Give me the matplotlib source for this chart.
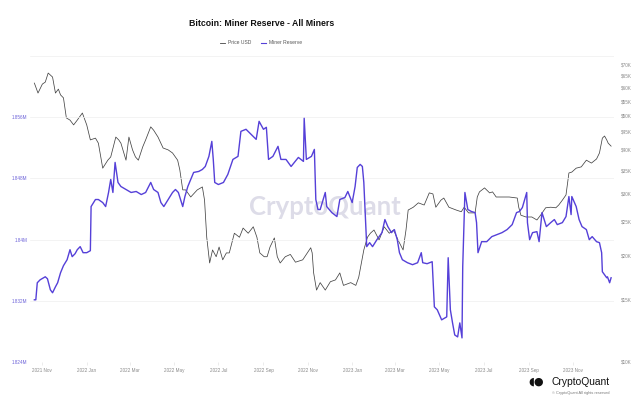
import matplotlib
matplotlib.use("Agg")
import matplotlib.pyplot as plt
import matplotlib.dates as mdates
from matplotlib.ticker import FixedLocator, FuncFormatter, NullLocator
from matplotlib.lines import Line2D
import pandas as pd

# ---------------- data ----------------
price_dates = [
    "2021-10-21", "2021-10-26", "2021-11-01", "2021-11-05", "2021-11-09",
    "2021-11-15", "2021-11-19", "2021-11-23", "2021-11-26", "2021-11-30",
    "2021-12-04", "2021-12-09", "2021-12-14", "2021-12-19", "2021-12-26",
    "2022-01-01", "2022-01-06", "2022-01-13", "2022-01-17", "2022-01-23",
    "2022-01-30", "2022-02-03", "2022-02-10", "2022-02-14", "2022-02-17",
    "2022-02-24", "2022-02-28", "2022-03-05", "2022-03-09", "2022-03-13",
    "2022-03-19", "2022-03-23", "2022-03-30", "2022-04-03", "2022-04-09",
    "2022-04-16", "2022-04-23", "2022-04-29", "2022-05-06", "2022-05-09",
    "2022-05-13", "2022-05-17", "2022-05-24", "2022-06-02", "2022-06-09",
    "2022-06-12", "2022-06-15", "2022-06-19", "2022-06-23", "2022-06-28",
    "2022-07-02", "2022-07-07", "2022-07-12", "2022-07-16", "2022-07-23",
    "2022-07-30", "2022-08-04", "2022-08-11", "2022-08-18", "2022-08-23",
    "2022-08-27", "2022-09-02", "2022-09-06", "2022-09-10", "2022-09-16",
    "2022-09-20", "2022-09-24", "2022-10-01", "2022-10-08", "2022-10-15",
    "2022-10-25", "2022-11-01", "2022-11-05", "2022-11-07", "2022-11-09",
    "2022-11-13", "2022-11-18", "2022-11-25", "2022-12-02", "2022-12-09",
    "2022-12-15", "2022-12-20", "2022-12-30", "2023-01-06", "2023-01-10",
    "2023-01-17", "2023-01-22", "2023-01-26", "2023-01-31", "2023-02-07",
    "2023-02-14", "2023-02-21", "2023-02-27", "2023-03-05", "2023-03-12",
    "2023-03-16", "2023-03-19", "2023-03-26", "2023-04-02", "2023-04-10",
    "2023-04-17", "2023-04-22", "2023-04-26", "2023-05-03", "2023-05-07",
    "2023-05-14", "2023-05-24", "2023-05-31", "2023-06-04", "2023-06-10",
    "2023-06-19", "2023-06-22", "2023-06-25", "2023-07-02", "2023-07-09",
    "2023-07-13", "2023-07-18", "2023-07-26", "2023-08-05", "2023-08-16",
    "2023-08-18", "2023-08-21", "2023-08-28", "2023-09-05", "2023-09-12",
    "2023-09-17", "2023-09-24", "2023-10-01", "2023-10-08", "2023-10-12",
    "2023-10-17", "2023-10-22", "2023-10-26", "2023-10-30", "2023-11-05",
    "2023-11-12", "2023-11-19", "2023-11-26", "2023-12-03", "2023-12-07",
    "2023-12-11", "2023-12-14", "2023-12-17", "2023-12-19", "2023-12-23",
]
price_usd_k = [
    61.9, 58.0, 61.5, 62.3, 66.1,
    64.4, 58.0, 59.5, 57.3, 56.2,
    49.3, 48.6, 47.1, 48.6, 50.9,
    47.1, 42.7, 43.2, 41.8, 35.5,
    37.4, 38.2, 43.5, 42.7, 41.8,
    37.4, 43.5, 40.0, 38.2, 37.4,
    40.8, 42.7, 46.5, 45.5, 43.5,
    40.5, 40.0, 39.2, 37.4, 35.1,
    30.8, 30.8, 29.4, 30.8, 31.4,
    28.8, 22.6, 19.1, 20.8, 19.9,
    21.2, 19.5, 20.4, 20.4, 23.2,
    22.6, 24.0, 23.2, 24.2, 22.6,
    20.4, 19.9, 19.9, 21.2, 22.5,
    19.9, 19.1, 19.9, 20.2, 19.2,
    19.5, 20.5, 21.1, 20.4, 17.9,
    16.0, 16.8, 16.0, 16.9, 17.1,
    17.9, 16.5, 16.8, 16.5, 17.4,
    20.8, 22.6, 23.2, 23.7, 22.2,
    24.2, 23.2, 23.7, 22.2, 20.8,
    23.7, 27.0, 27.5, 28.3, 27.9,
    30.2, 30.0, 27.5, 28.8, 29.2,
    27.5, 27.0, 26.7, 27.5, 26.5,
    26.5, 29.4, 30.4, 31.2, 30.2,
    30.4, 29.4, 29.4, 29.4, 29.2,
    27.5, 26.1, 25.8, 25.8, 25.3,
    26.1, 27.4, 27.5, 27.4, 27.9,
    28.8, 29.8, 34.4, 34.6, 35.5,
    35.8, 37.4, 36.7, 37.7, 39.2,
    43.2, 43.8, 42.7, 41.8, 41.0,
]

reserve_dates = [
    "2021-10-21", "2021-10-23", "2021-10-25", "2021-10-29", "2021-11-05",
    "2021-11-08", "2021-11-12", "2021-11-15", "2021-11-19", "2021-11-22",
    "2021-11-26", "2021-11-30", "2021-12-05", "2021-12-09", "2021-12-12",
    "2021-12-16", "2021-12-19", "2021-12-23", "2021-12-27", "2022-01-01",
    "2022-01-06", "2022-01-07", "2022-01-13", "2022-01-17", "2022-01-23",
    "2022-01-27", "2022-01-31", "2022-02-03", "2022-02-06", "2022-02-09",
    "2022-02-13", "2022-02-17", "2022-02-24", "2022-03-03", "2022-03-10",
    "2022-03-17", "2022-03-23", "2022-03-30", "2022-04-03", "2022-04-09",
    "2022-04-13", "2022-04-17", "2022-04-23", "2022-04-29", "2022-05-03",
    "2022-05-07", "2022-05-13", "2022-05-16", "2022-05-20", "2022-05-24",
    "2022-05-28", "2022-06-04", "2022-06-09", "2022-06-13", "2022-06-18",
    "2022-06-22", "2022-06-24", "2022-06-26", "2022-07-01", "2022-07-08",
    "2022-07-14", "2022-07-21", "2022-07-28", "2022-08-01", "2022-08-08",
    "2022-08-15", "2022-08-22", "2022-08-26", "2022-09-01", "2022-09-05",
    "2022-09-08", "2022-09-14", "2022-09-21", "2022-09-25", "2022-10-02",
    "2022-10-09", "2022-10-19", "2022-10-26", "2022-10-27", "2022-10-30",
    "2022-11-06", "2022-11-10", "2022-11-12", "2022-11-15", "2022-11-18",
    "2022-11-25", "2022-11-27", "2022-12-04", "2022-12-11", "2022-12-15",
    "2022-12-22", "2022-12-26", "2023-01-01", "2023-01-05", "2023-01-08",
    "2023-01-12", "2023-01-15", "2023-01-17", "2023-01-21", "2023-01-25",
    "2023-01-29", "2023-02-04", "2023-02-11", "2023-02-15", "2023-02-19",
    "2023-02-24", "2023-02-28", "2023-03-04", "2023-03-07", "2023-03-11",
    "2023-03-18", "2023-03-25", "2023-04-01", "2023-04-06", "2023-04-08",
    "2023-04-14", "2023-04-21", "2023-04-24", "2023-04-28", "2023-05-04",
    "2023-05-11", "2023-05-13", "2023-05-16", "2023-05-19", "2023-05-22",
    "2023-05-26", "2023-05-29", "2023-06-01", "2023-06-02", "2023-06-05",
    "2023-06-09", "2023-06-14", "2023-06-19", "2023-06-21", "2023-06-23",
    "2023-06-28", "2023-07-05", "2023-07-12", "2023-07-19", "2023-07-26",
    "2023-08-02", "2023-08-09", "2023-08-15", "2023-08-19", "2023-08-23",
    "2023-08-29", "2023-08-30", "2023-09-02", "2023-09-06", "2023-09-12",
    "2023-09-15", "2023-09-19", "2023-09-25", "2023-10-01", "2023-10-06",
    "2023-10-10", "2023-10-17", "2023-10-22", "2023-10-26", "2023-10-29",
    "2023-10-30", "2023-11-05", "2023-11-09", "2023-11-13", "2023-11-19",
    "2023-11-23", "2023-11-27", "2023-12-03", "2023-12-07", "2023-12-10",
    "2023-12-11", "2023-12-17", "2023-12-18", "2023-12-21", "2023-12-23",
]
reserve_m = [
    1.83213, 1.83213, 1.83436, 1.83475, 1.83514,
    1.83488, 1.83344, 1.83305, 1.83383, 1.83436,
    1.83567, 1.83659, 1.83737, 1.83868, 1.83777,
    1.83816, 1.83868, 1.83908, 1.83829, 1.83829,
    1.83855, 1.84432, 1.84524, 1.84524, 1.84484,
    1.84432, 1.84616, 1.84786, 1.84616, 1.85009,
    1.84747, 1.84694, 1.84655, 1.84616, 1.84629,
    1.84589, 1.84616, 1.84747, 1.84655, 1.84616,
    1.84484, 1.84432, 1.84524, 1.84616, 1.84655,
    1.84616, 1.84432, 1.84563, 1.84694, 1.84786,
    1.84878, 1.84891, 1.84917, 1.84956, 1.85088,
    1.85284, 1.85048, 1.84747, 1.84720, 1.84747,
    1.84852, 1.85048, 1.85088, 1.85415, 1.85442,
    1.85376, 1.85310, 1.85546, 1.85442, 1.85468,
    1.85048, 1.85088, 1.85219, 1.85048, 1.85048,
    1.84956, 1.85074, 1.85022, 1.85586, 1.85048,
    1.85088, 1.85179, 1.84524, 1.84393, 1.84393,
    1.84616, 1.84432, 1.84353, 1.84301, 1.84524,
    1.84550, 1.84629, 1.84484, 1.84694, 1.84943,
    1.84983, 1.84956, 1.84747, 1.83908, 1.83960,
    1.83908, 1.83999, 1.84091, 1.84262, 1.84170,
    1.84091, 1.84131, 1.83999, 1.83829, 1.83737,
    1.83698, 1.83672, 1.83698, 1.83829, 1.83698,
    1.83685, 1.83711, 1.83121, 1.83082, 1.82951,
    1.82990, 1.83763, 1.83082, 1.82911, 1.82754,
    1.82728, 1.82911, 1.82715, 1.83646, 1.84616,
    1.84393, 1.84367, 1.84353, 1.84222, 1.83829,
    1.83973, 1.83973, 1.84039, 1.84065, 1.84091,
    1.84131, 1.84196, 1.84353, 1.84367, 1.84419,
    1.84616, 1.84222, 1.83999, 1.84091, 1.84104,
    1.83973, 1.84353, 1.84170, 1.84222, 1.84262,
    1.84196, 1.84222, 1.84301, 1.84563, 1.84327,
    1.84563, 1.84432, 1.84262, 1.84170, 1.84131,
    1.83999, 1.84039, 1.83973, 1.83960, 1.83829,
    1.83580, 1.83501, 1.83514, 1.83436, 1.83501,
]

reserve_ticks = [1.824, 1.832, 1.84, 1.848, 1.856]
reserve_tick_labels = ["1.824M", "1.832M", "1.84M", "1.848M", "1.856M"]
price_ticks_k = [10, 15, 20, 25, 30, 35, 40, 45, 50, 55, 60, 65, 70]
x_tick_dates = ["2021-11-01", "2022-01-01", "2022-03-01", "2022-05-01",
                "2022-07-01", "2022-09-01", "2022-11-01", "2023-01-01",
                "2023-03-01", "2023-05-01", "2023-07-01", "2023-09-01",
                "2023-11-01"]

# ---------------- styling ----------------
BLUE = "#5540d8"
BLUE_TXT = "#6d63d9"
GRAY_TXT = "#8a8a8a"
PRICE_C = "#444444"
plt.rcParams["font.family"] = ["Liberation Sans", "DejaVu Sans"]

W, H = 640, 403
fig = plt.figure(figsize=(W / 100, H / 100), dpi=100)
fig.patch.set_facecolor("white")

L, R, T, B = 30, 614, 56, 362
ax = fig.add_axes([L / W, 1 - B / H, (R - L) / W, (B - T) / H])
ax2 = ax.twinx()
ax.set_zorder(ax2.get_zorder() + 1)
ax.patch.set_visible(False)

pdates = pd.to_datetime(price_dates)
rdates = pd.to_datetime(reserve_dates)

ax2.plot(pdates, [v * 1000 for v in price_usd_k], color=PRICE_C, lw=0.55)
ax.plot(rdates, reserve_m, color=BLUE, lw=1.0)

# x axis
ax.set_xlim(pd.Timestamp("2021-10-15"), pd.Timestamp("2023-12-27"))
ax.xaxis.set_major_locator(FixedLocator(mdates.date2num(pd.to_datetime(x_tick_dates))))
ax.xaxis.set_major_formatter(mdates.DateFormatter("%Y %b"))
ax.tick_params(axis="x", labelsize=3.3, colors="#dddddd", labelcolor=GRAY_TXT,
               length=2, width=0.4, pad=2.5)

# left (reserve) axis
ax.set_ylim(1.824, 1.864)
ax.yaxis.set_major_locator(FixedLocator(reserve_ticks + [1.864]))
ax.yaxis.set_major_formatter(FuncFormatter(
    lambda v, p: reserve_tick_labels[reserve_ticks.index(round(v, 3))]
    if round(v, 3) in reserve_ticks else ""))
ax.tick_params(axis="y", labelsize=3.3, labelcolor=BLUE_TXT, length=0, pad=2)
ax.grid(axis="y", color="#efefef", lw=0.5)

# right (price) axis, log
ax2.set_yscale("log")
ax2.set_ylim(10000, 10000 * 2.7183 ** ((B - T) / 153.0))
ax2.yaxis.set_major_locator(FixedLocator([v * 1000 for v in price_ticks_k]))
ax2.yaxis.set_minor_locator(NullLocator())
ax2.yaxis.set_major_formatter(FuncFormatter(lambda v, p: f"${v/1000:.0f}K"))
ax2.tick_params(axis="y", labelsize=3.3, labelcolor=GRAY_TXT, length=0, pad=5)

for a in (ax, ax2):
    for s in a.spines.values():
        s.set_visible(False)

# watermark
ax2.text(0.505, 0.505, "CryptoQuant", transform=ax2.transAxes, ha="center",
         va="center", fontsize=18.5, fontweight="bold", color="#dddce8",
         family=["Lato", "DejaVu Sans"], zorder=0)

# title and legend
fig.text(262 / W, 1 - 24 / H, "Bitcoin: Miner Reserve - All Miners",
         ha="center", va="center", fontsize=6.3, fontweight="bold", color="#111111")
handles = [Line2D([], [], color=PRICE_C, lw=0.6),
           Line2D([], [], color=BLUE, lw=0.8)]
fig.legend(handles, ["Price USD", "Miner Reserve"], loc="center",
           bbox_to_anchor=(261 / W, 1 - 43 / H), ncol=2, frameon=False,
           fontsize=3.6, handlelength=1.0, handletextpad=0.5, columnspacing=2.0,
           labelcolor="#555555")

# logo
fig.text(536 / W, 1 - 382 / H, "◖●", ha="center", va="center", fontsize=8,
         color="#111111", family=["DejaVu Sans"])
fig.text(610 / W, 1 - 382 / H, "CryptoQuant", ha="right", va="center",
         fontsize=7.4, color="#111111")
fig.text(610 / W, 1 - 393 / H, "© CryptoQuant All rights reserved", ha="right",
         va="center", fontsize=2.8, color="#777777")

fig.savefig("out.png", dpi=100)
